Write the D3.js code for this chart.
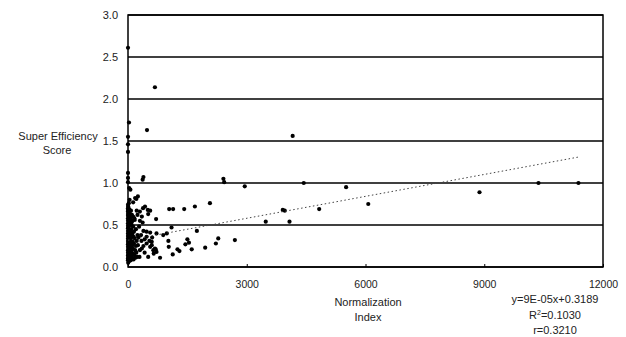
<!DOCTYPE html>
<html>
<head>
<meta charset="utf-8">
<script src="https://cdn.jsdelivr.net/npm/d3@7"></script>
<style>
  body { margin: 0; background: #fff; }
  text { font-family: "Liberation Sans", Arial, sans-serif; fill: #222; }
</style>
</head>
<body>
<svg id="scatter" width="626" height="337"></svg>
<script>
// Normalization index (x) and super efficiency score (y)
const normIndex = [
    // outliers and upper points
    0, 680, 25, 480, 4160, 0, 0, 0, 0, 0, 0, 390, 370, 2410, 2430, 2950, 4440, 5510,
    6070, 8880, 10370, 11380, 30, 60, 250, 210, 130, 40,
    // middle spread
    1040, 1140, 1420, 1690, 2070, 3480, 3910, 3960, 4080, 4830, 1740, 2700, 2280, 2220,
    1950, 1610, 1540, 1500, 1450, 1300, 1250, 1130, 1030, 1020, 810, 890, 980, 1100,
    710, 720, 560, 470, 390, 370, 560, 510, 430, 300, 220, 180, 380, 500,
    // low cluster
    640, 680, 720, 560, 600, 470, 390, 340, 470, 290, 510, 300, 420, 350, 250, 260,
    330, 420, 540, 610, 200, 280, 160, 300, 240, 350, 600, 650, 700,
    // dense column near zero
    0, 10, 0, 20, 5, 40, 0, 15, 60, 0, 25, 80, 0, 35, 10, 100, 0, 50, 20, 0, 70, 5,
    120, 0, 30, 90, 0, 45, 15, 0, 110, 60, 0, 25, 150, 0, 40, 80, 0, 10, 130, 0, 55,
    20, 0, 90, 35, 0, 170, 10, 0, 65, 25, 0, 100, 0, 45, 15, 0, 75, 0, 30, 0, 5, 0, 20,
    140, 190, 160, 210, 180, 230, 200, 150, 220, 170, 240, 130, 110, 90, 70, 55, 30,
    85, 65, 45, 105, 125, 95, 75, 115, 140, 60, 85, 110, 130, 50, 20, 35, 15, 50, 5
];
const superEff = [
    2.61, 2.14, 1.72, 1.63, 1.56, 1.55, 1.46, 1.37, 1.12, 1.06, 1.01, 1.07, 1.04, 1.05,
    1.01, 0.96, 1.00, 0.95, 0.75, 0.89, 1.00, 1.00, 0.94, 0.92, 0.84, 0.81, 0.77, 0.80,
    0.69, 0.69, 0.69, 0.72, 0.76, 0.54, 0.68, 0.67, 0.54, 0.69, 0.43, 0.32, 0.34, 0.28,
    0.23, 0.21, 0.29, 0.33, 0.27, 0.19, 0.21, 0.15, 0.24, 0.31, 0.11, 0.38, 0.40, 0.47,
    0.57, 0.40, 0.41, 0.42, 0.43, 0.53, 0.67, 0.63, 0.72, 0.66, 0.67, 0.82, 0.70, 0.68,
    0.20, 0.22, 0.18, 0.24, 0.26, 0.28, 0.25, 0.31, 0.36, 0.12, 0.12, 0.20, 0.17, 0.22,
    0.26, 0.35, 0.38, 0.33, 0.31, 0.35, 0.45, 0.48, 0.58, 0.55, 0.62, 0.60, 0.30, 0.16, 0.21,
    0.08, 0.09, 0.10, 0.11, 0.12, 0.13, 0.14, 0.15, 0.16, 0.17, 0.18, 0.19, 0.20, 0.21,
    0.22, 0.23, 0.24, 0.25, 0.26, 0.27, 0.28, 0.29, 0.30, 0.31, 0.32, 0.33, 0.34, 0.35,
    0.36, 0.37, 0.38, 0.39, 0.40, 0.41, 0.42, 0.43, 0.44, 0.45, 0.46, 0.47, 0.48, 0.49,
    0.50, 0.51, 0.52, 0.53, 0.54, 0.55, 0.56, 0.57, 0.58, 0.59, 0.60, 0.61, 0.62, 0.63,
    0.64, 0.65, 0.66, 0.67, 0.68, 0.69, 0.70, 0.72, 0.74, 0.76,
    0.09, 0.11, 0.14, 0.17, 0.20, 0.12, 0.25, 0.28, 0.31, 0.34, 0.38, 0.16, 0.10, 0.12,
    0.08, 0.11, 0.07, 0.15, 0.21, 0.18, 0.26, 0.22, 0.30, 0.35, 0.41, 0.36, 0.44, 0.50,
    0.55, 0.60, 0.57, 0.40, 0.28, 0.19, 0.09, 0.05
];

const xTicks = [0, 3000, 6000, 9000, 12000];
const yTicks = [0, 0.5, 1.0, 1.5, 2.0, 2.5, 3.0];

// linear trend (the label rounds the slope to 9E-05)
const trendSlope = 0.000087;
const trendIntercept = 0.3189;
const statLabels = ["y=9E-05x+0.3189", "R2=0.1030", "r=0.3210"];

const svg = d3.select("#scatter");
const plotLeft = 128, plotRight = 603, plotTop = 15, plotBottom = 267;

const x = d3.scaleLinear().domain([0, 12000]).range([plotLeft, plotRight]);
const y = d3.scaleLinear().domain([0, 3]).range([plotBottom, plotTop]);

// horizontal gridlines
svg.append("g")
    .selectAll("line")
    .data(yTicks)
    .join("line")
    .attr("x1", plotLeft)
    .attr("x2", plotRight)
    .attr("y1", d => y(d))
    .attr("y2", d => y(d))
    .attr("stroke", "#000")
    .attr("stroke-width", 1.5);

// plot frame
svg.append("rect")
    .attr("x", plotLeft)
    .attr("y", plotTop)
    .attr("width", plotRight - plotLeft)
    .attr("height", plotBottom - plotTop)
    .attr("fill", "none")
    .attr("stroke", "#000")
    .attr("stroke-width", 1.5);

// x axis with small inner ticks
const xAxis = svg.append("g")
    .attr("transform", `translate(0, ${plotBottom})`)
    .call(d3.axisBottom(x).tickValues(xTicks).tickSize(-3).tickPadding(14).tickFormat(d3.format("d")));
xAxis.select(".domain").remove();
xAxis.selectAll("line").attr("stroke", "#000");
xAxis.selectAll("text").style("font-size", "10.5px").attr("font-family", null);

// y axis labels
const yAxis = svg.append("g")
    .attr("transform", `translate(${plotLeft}, 0)`)
    .call(d3.axisLeft(y).tickValues(yTicks).tickSize(0).tickPadding(10).tickFormat(d3.format(".1f")));
yAxis.select(".domain").remove();
yAxis.selectAll("text").style("font-size", "11px").attr("font-family", null);

// points
const pts = normIndex.map((v, i) => ({ x: v, y: superEff[i] }));
svg.append("g")
    .selectAll("circle")
    .data(pts)
    .join("circle")
    .attr("cx", d => x(d.x))
    .attr("cy", d => y(d.y))
    .attr("r", 2.1)
    .attr("fill", "#000");

// dotted trend line
const xMax = d3.max(normIndex);
svg.append("path")
    .datum([0, xMax])
    .attr("d", d3.line().x(d => x(d)).y(d => y(trendSlope * d + trendIntercept)))
    .attr("fill", "none")
    .attr("stroke", "#444")
    .attr("stroke-width", 1)
    .attr("stroke-dasharray", "1.5,2.5");

// axis titles
const yTitle = svg.append("text")
    .attr("text-anchor", "middle")
    .style("font-size", "11px");
yTitle.append("tspan").attr("x", 58).attr("y", 140).text("Super Efficiency");
yTitle.append("tspan").attr("x", 57).attr("y", 154).text("Score");

const xTitle = svg.append("text")
    .attr("text-anchor", "middle")
    .style("font-size", "11px");
xTitle.append("tspan").attr("x", 368).attr("y", 306).text("Normalization");
xTitle.append("tspan").attr("x", 368).attr("y", 321).text("Index");

// regression statistics
const stats = svg.append("g").style("font-size", "11px");
stats.append("text").attr("x", 555).attr("y", 303).attr("text-anchor", "middle").text(statLabels[0]);
const r2 = stats.append("text").attr("x", 555).attr("y", 319).attr("text-anchor", "middle");
r2.append("tspan").text("R");
r2.append("tspan").attr("dy", -4).style("font-size", "7px").text("2");
r2.append("tspan").attr("dy", 4).text(statLabels[1].slice(2));
stats.append("text").attr("x", 555).attr("y", 334).attr("text-anchor", "middle").text(statLabels[2]);
</script>
</body>
</html>
